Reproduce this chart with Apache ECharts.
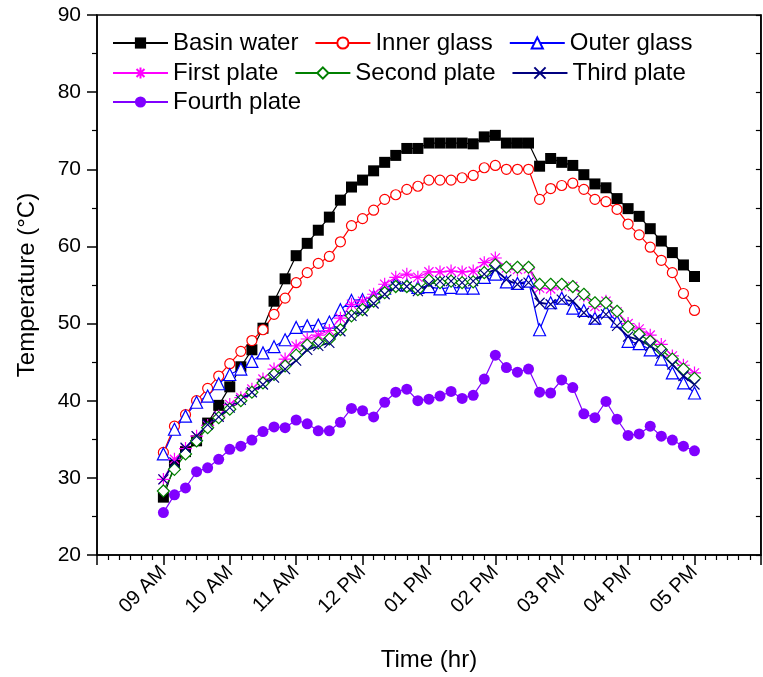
<!DOCTYPE html>
<html>
<head>
<meta charset="utf-8">
<script src="https://cdn.jsdelivr.net/npm/echarts@6/dist/echarts.min.js"></script>
<style>html,body{margin:0;padding:0;background:#fff}#c{width:763px;height:677px}</style>
</head>
<body>
<div id="c"></div>
<script>
var times = ["09:00","09:10","09:20","09:30","09:40","09:50","10:00","10:10","10:20","10:30",
"10:40","10:50","11:00","11:10","11:20","11:30","11:40","11:50","12:00","12:10",
"12:20","12:30","12:40","12:50","13:00","13:10","13:20","13:30","13:40","13:50",
"14:00","14:10","14:20","14:30","14:40","14:50","15:00","15:10","15:20","15:30",
"15:40","15:50","16:00","16:10","16:20","16:30","16:40","16:50","17:00"];
var tickLabels = {540:"09 AM",600:"10 AM",660:"11 AM",720:"12 PM",780:"01 PM",840:"02 PM",900:"03 PM",960:"04 PM",1020:"05 PM"};
var basinWater = [27.5,31.6,33.4,34.8,37.1,39.4,41.8,44.4,46.6,49.4,52.9,55.8,58.8,60.4,62.1,63.8,66.0,67.7,68.6,69.8,70.9,71.8,72.7,72.7,73.4,73.4,73.4,73.4,73.3,74.2,74.4,73.4,73.4,73.4,70.4,71.4,70.9,70.5,69.3,68.1,67.6,66.2,64.9,63.9,62.3,60.7,59.2,57.6,56.1];
var innerGlass = [33.3,36.7,38.2,40.0,41.6,43.2,44.8,46.4,47.8,49.2,51.2,53.3,55.3,56.6,57.8,58.7,60.6,62.7,63.6,64.7,66.1,66.7,67.4,67.8,68.6,68.6,68.6,68.9,69.2,70.2,70.5,70.0,70.0,70.0,66.1,67.5,67.9,68.2,67.4,66.1,65.8,64.8,62.9,61.5,59.9,58.2,56.6,53.9,51.7];
var outerGlass = [33.1,36.3,38.0,39.8,40.6,42.2,43.4,44.1,45.1,46.2,47.0,47.9,49.5,49.7,49.8,50.2,51.8,53.0,53.1,53.5,54.6,55.3,55.0,54.7,54.8,54.5,54.7,54.6,54.6,56.0,56.4,55.4,55.2,55.5,49.2,52.7,53.3,52.0,51.7,50.7,51.6,50.3,47.7,47.4,46.6,45.4,43.6,42.3,41.0];
var firstPlate = [29.8,32.4,33.8,35.4,36.8,38.0,39.5,40.4,41.5,42.8,44.1,45.4,47.1,48.0,48.5,49.1,50.7,52.5,52.9,53.8,55.1,56.0,56.4,56.0,56.7,56.7,56.8,56.7,56.8,57.9,58.5,57.2,57.0,57.1,54.6,54.5,54.9,54.8,53.6,52.2,52.9,51.5,50.0,49.3,48.5,47.3,45.8,44.6,43.6];
var secondPlate = [28.3,31.1,33.1,34.8,36.5,37.8,38.9,40.0,41.1,42.3,43.4,44.5,45.9,47.2,47.5,48.0,49.2,51.0,51.8,52.9,54.0,54.8,54.8,54.4,55.6,55.3,55.5,55.3,55.4,56.6,57.6,57.3,57.3,57.3,55.1,55.1,55.1,54.8,53.8,52.7,52.7,51.6,49.6,48.6,47.7,46.6,45.4,44.1,42.9];
var thirdPlate = [29.8,32.0,33.9,35.4,36.9,37.9,39.1,40.1,41.1,42.1,43.0,44.1,45.2,46.6,47.1,47.5,49.0,51.0,51.6,52.6,53.8,54.8,54.8,54.2,55.1,55.5,55.5,55.3,55.5,56.4,57.0,55.7,55.1,55.3,52.7,52.5,53.1,52.9,51.4,50.5,51.2,49.7,48.3,47.9,47.1,46.1,44.7,43.2,42.1];
var fourthPlate = [25.5,27.8,28.7,30.8,31.3,32.4,33.7,34.1,34.9,36.0,36.6,36.5,37.5,37.0,36.1,36.1,37.2,39.0,38.7,37.9,39.8,41.1,41.5,40.0,40.2,40.6,41.2,40.3,40.7,42.8,45.9,44.3,43.7,44.1,41.1,41.0,42.7,41.7,38.3,37.8,39.9,37.6,35.5,35.7,36.7,35.4,34.9,34.1,33.5];

function toMin(t){var p=t.split(':');return +p[0]*60 + +p[1];}
function pairs(arr){return arr.map(function(v,i){return [toMin(times[i]), v];});}

var FONT = 'Liberation Sans, Arial, sans-serif';
var asterisk = 'path://M0,-10L0,10M-10,0L10,0M-7.07,-7.07L7.07,7.07M-7.07,7.07L7.07,-7.07';
var cross = 'path://M-10,-10L10,10M-10,10L10,-10';

function mk(name, data, color, symbol, size, filled, lw){
  var hollowStroke = (symbol === asterisk || symbol === cross);
  return {
    name: name, type: 'line', data: pairs(data),
    symbol: symbol, symbolSize: size,
    lineStyle: {color: color, width: lw || 1.2},
    itemStyle: hollowStroke ? {color: 'rgba(0,0,0,0)', borderColor: color, borderWidth: 1.2}
              : (filled ? {color: color, borderColor: color, borderWidth: 0}
                        : {color: '#fff', borderColor: color, borderWidth: 1.2}),
    emphasis: {disabled: true},
    animation: false
  };
}

var legendBase = {
  left: 107, itemWidth: 55, itemHeight: 14, itemGap: 16, selectedMode: false,
  textStyle: {fontFamily: FONT, fontSize: 24, color: '#000'}
};
var chart = echarts.init(document.getElementById('c'), null, {renderer: 'canvas'});
chart.setOption({
  backgroundColor: '#fff',
  animation: false,
  grid: {left: 97, right: 1, top: 15, bottom: 121, show: true, borderColor: '#000', borderWidth: 1.5},
  legend: [
    Object.assign({}, legendBase, {top: 26, data: ['Basin water','Inner glass','Outer glass']}),
    Object.assign({}, legendBase, {top: 56, data: ['First plate','Second plate','Third plate']}),
    Object.assign({}, legendBase, {top: 85, data: ['Fourth plate']})
  ],
  xAxis: {
    type: 'value', min: 480, max: 1080, interval: 60,
    name: 'Time (hr)', nameLocation: 'middle', nameGap: 93,
    nameTextStyle: {fontFamily: FONT, fontSize: 24, color: '#000'},
    axisLine: {show: true, lineStyle: {color: '#000', width: 1.5}},
    axisTick: {show: true, length: 10, lineStyle: {color: '#000', width: 1.5}},
    minorTick: {show: true, splitNumber: 6, length: 5, lineStyle: {color: '#000', width: 1.2}},
    splitLine: {show: false},
    axisLabel: {rotate: 45, margin: 14, fontFamily: FONT, fontSize: 20, color: '#000',
      formatter: function(v){return tickLabels[v] || '';}}
  },
  yAxis: [{
    type: 'value', min: 20, max: 90, interval: 10,
    name: 'Temperature (\u00B0C)', nameLocation: 'middle', nameGap: 58,
    nameTextStyle: {fontFamily: FONT, fontSize: 24, color: '#000'},
    axisLine: {show: true, lineStyle: {color: '#000', width: 1.5}},
    axisTick: {show: true, length: 10, lineStyle: {color: '#000', width: 1.5}},
    minorTick: {show: true, splitNumber: 2, length: 5, lineStyle: {color: '#000', width: 1.2}},
    splitLine: {show: false},
    axisLabel: {margin: 16, fontFamily: FONT, fontSize: 21, color: '#000'}
  },{
    type: 'value', position: 'right', min: 20, max: 90, interval: 5,
    axisLine: {show: true, lineStyle: {color: '#000', width: 1.5}},
    axisTick: {show: true, inside: true, length: 5, lineStyle: {color: '#000', width: 1.2}},
    axisLabel: {show: false}, splitLine: {show: false}
  }],
  series: [
    mk('Basin water', basinWater, '#000000', 'rect', 11, true),
    mk('Inner glass', innerGlass, '#ff0000', 'circle', 10, false),
    mk('Outer glass', outerGlass, '#0000ff', 'triangle', 12, false),
    mk('First plate', firstPlate, '#ff00ff', asterisk, 13, false),
    mk('Second plate', secondPlate, '#008000', 'diamond', 12, false),
    mk('Third plate', thirdPlate, '#000080', cross, 10, false, 1.8),
    mk('Fourth plate', fourthPlate, '#8000ff', 'circle', 11, true)
  ]
});
</script>
</body>
</html>
